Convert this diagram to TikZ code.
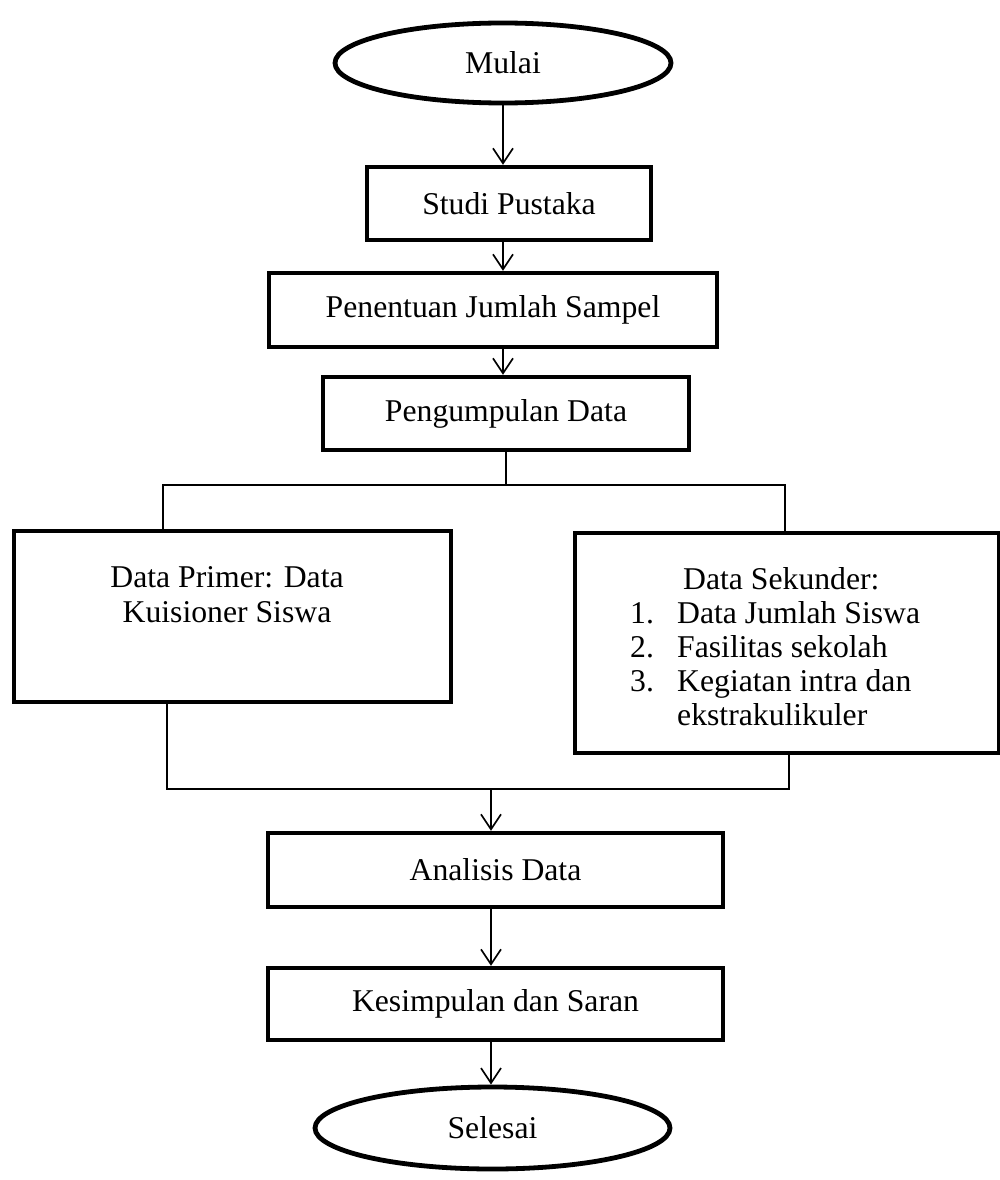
\documentclass[tikz,border=0pt]{standalone}
\usepackage{fontspec}
\setmainfont{Liberation Serif}
\usetikzlibrary{shapes.geometric,arrows.meta}
\newcommand\diagfont{\fontsize{31.7}{35}\selectfont}
\tikzset{
  proc/.style={draw, rectangle, line width=4.3pt, inner sep=0pt, font=\diagfont, align=center},
  term/.style={draw, ellipse, line width=4.8pt, inner sep=0pt, font=\diagfont},
  txt/.style={inner sep=0pt, font=\diagfont, align=center},
  conn/.style={line width=1.7pt},
  arr/.style={conn, -{Straight Barb[length=15pt,width=20pt]}}
}
\begin{document}
\begin{tikzpicture}[x=1pt,y=-1pt]
\useasboundingbox (0,0) rectangle (1000,1180);
\node[term, minimum width=336pt, minimum height=80pt] (mulai) at (503,63) {Mulai};
\node[proc, minimum width=284pt, minimum height=73pt] (studi) at (509,203.5) {Studi Pustaka};
\node[proc, minimum width=448pt, minimum height=74pt] (penentuan) at (493,310) {Penentuan Jumlah Sampel};
\node[proc, minimum width=366pt, minimum height=73pt] (pengumpulan) at (506,413.5) {Pengumpulan Data};
\node[proc, minimum width=437pt, minimum height=171pt] (primer) at (232.5,616.5) {};
\node[txt, anchor=north] (primert) at (227,566) {Data Primer: Data\\Kuisioner Siswa};
\node[proc, minimum width=424pt, minimum height=220pt] (sekunder) at (787,643) {};
\node[txt, anchor=north west] (sekundert) at (630,566) {\renewcommand\arraystretch{0.97}\begin{tabular}{@{}p{47pt}@{}l@{}}
\multicolumn{2}{@{}l@{}}{\hspace{53pt}Data Sekunder:}\\
1. & Data Jumlah Siswa\\
2. & Fasilitas sekolah\\
3. & Kegiatan intra dan\\
   & ekstrakulikuler
\end{tabular}};
\node[proc, minimum width=455pt, minimum height=74pt] (analisis) at (495.5,870) {Analisis Data};
\node[proc, minimum width=455pt, minimum height=72pt] (kesimpulan) at (495.5,1004) {Kesimpulan dan Saran};
\node[term, minimum width=355pt, minimum height=82pt] (selesai) at (492.5,1128) {Selesai};
\coordinate (ax) at (503,0);
\coordinate (bx) at (491,0);
\coordinate (busL) at (163,485);
\coordinate (busR) at (785,485);
\coordinate (botL) at (167,789);
\coordinate (botR) at (789,789);
\coordinate (botM) at (491,789);
\draw[arr] (mulai.south -| ax) -- (studi.north -| ax);
\draw[arr] (studi.south -| ax) -- (penentuan.north -| ax);
\draw[arr] (penentuan.south -| ax) -- (pengumpulan.north -| ax);
\draw[conn] (pengumpulan.south) -- (pengumpulan.south |- busL);
\draw[conn] (busL |- primer.north) -- (busL) -- (busR) -- (busR |- sekunder.north);
\draw[conn] (botL |- primer.south) -- (botL) -- (botR) -- (botR |- sekunder.south);
\draw[arr] (botM) -- (analisis.north -| botM);
\draw[arr] (analisis.south -| bx) -- (kesimpulan.north -| bx);
\draw[arr] (kesimpulan.south -| bx) -- (selesai.north -| bx);
\end{tikzpicture}
\end{document}
